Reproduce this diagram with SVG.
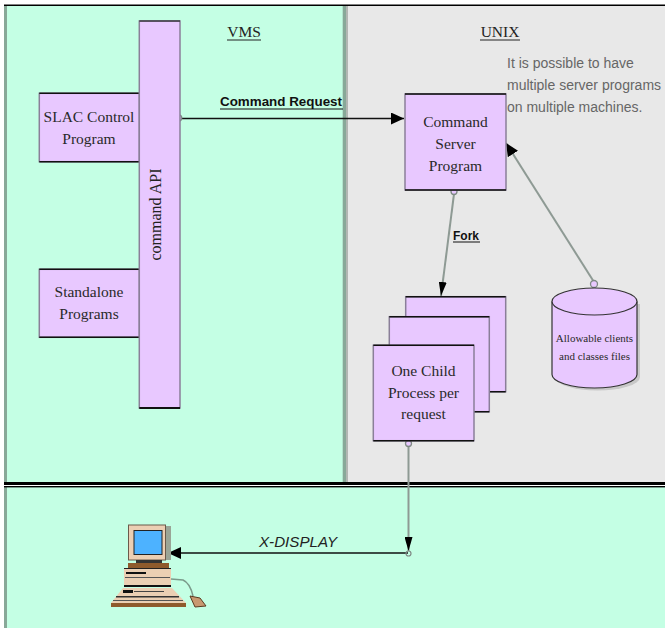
<svg xmlns="http://www.w3.org/2000/svg" width="665" height="628" viewBox="0 0 665 628">
<defs>
<style>
.box{fill:#E8C8FF;stroke:#8A7F99;stroke-width:1.5}
.edge{stroke:#111;stroke-width:1.5;fill:none}
.lbl{font-family:"Liberation Serif",serif;font-size:15.5px;fill:#2a2a2a;text-anchor:middle}
.hdr{font-family:"Liberation Serif",serif;font-size:15.5px;fill:#222;text-anchor:middle}
.bl{font-family:"Liberation Sans",sans-serif;font-weight:bold;font-size:12px;fill:#111}
.note{font-family:"Liberation Sans",sans-serif;font-size:14px;fill:#666}
.cyl{font-family:"Liberation Serif",serif;font-size:11px;fill:#2a2a2a;text-anchor:middle}
.gl{stroke:#8E9A94;stroke-width:2;fill:none}
.kl{stroke:#111;stroke-width:1.3;fill:none}
.dot{fill:#E8C8FF;stroke:#7f8a85;stroke-width:1.3}
</style>
<marker id="ah" markerWidth="14" markerHeight="12" refX="13" refY="6" orient="auto" markerUnits="userSpaceOnUse"><path d="M0,0 L13,6 L0,12 z" fill="#000"/></marker>
<marker id="ahn" markerWidth="15" markerHeight="8" refX="14" refY="4" orient="auto" markerUnits="userSpaceOnUse"><path d="M0,0 L14,4 L0,8 z" fill="#000"/></marker>
</defs>
<rect width="665" height="628" fill="#fff"/>
<g id="panels">
<rect x="5" y="5" width="340" height="477" fill="#C4FFE4"/>
<rect x="346" y="5" width="319" height="477" fill="#E8E8E8"/>
<rect x="5" y="487" width="660" height="141" fill="#C4FFE4"/>
<rect x="4" y="5" width="3" height="623" fill="#88A898"/>
<rect x="342.7" y="5" width="3.3" height="477" fill="#88A898"/>
<rect x="346" y="5" width="2" height="477" fill="#B2B6B2"/>
<rect x="4" y="4.5" width="661" height="1.5" fill="#000"/>
<rect x="4" y="482" width="661" height="3" fill="#000"/>
<rect x="4" y="485" width="661" height="1" fill="#fff"/>
<rect x="4" y="486" width="661" height="1.4" fill="#000"/>
</g>
<g id="headers">
<text class="hdr" x="244" y="37">VMS</text>
<line x1="227" y1="40" x2="261" y2="40" stroke="#222" stroke-width="1"/>
<text class="hdr" x="500" y="37">UNIX</text>
<line x1="480" y1="40" x2="520" y2="40" stroke="#222" stroke-width="1"/>
<text class="note" x="507" y="68">It is possible to have</text>
<text class="note" x="507" y="90">multiple server programs</text>
<text class="note" x="507" y="112">on multiple machines.</text>
</g>
<g id="connectors">
<line class="kl" x1="182" y1="118.5" x2="404" y2="118.5" marker-end="url(#ah)"/>
<circle class="dot" cx="178.7" cy="118" r="3"/>
<text class="bl" x="220" y="106" textLength="122" lengthAdjust="spacingAndGlyphs">Command Request</text>
<line x1="220" y1="109" x2="343" y2="109" stroke="#111" stroke-width="1"/>
<line class="gl" x1="454" y1="194" x2="441" y2="296" marker-end="url(#ahn)"/>
<circle class="dot" cx="454" cy="191.5" r="3"/>
<text class="bl" x="453" y="240">Fork</text>
<line x1="453" y1="242" x2="480" y2="242" stroke="#111" stroke-width="1"/>
<line class="gl" x1="594" y1="282" x2="506" y2="143" marker-end="url(#ah)"/>
<circle class="dot" cx="594" cy="284" r="3.5"/>
<line class="gl" x1="408.5" y1="446" x2="408.5" y2="551" marker-end="url(#ahn)"/>
<circle class="dot" cx="408.5" cy="443.5" r="3"/>
<line class="kl" x1="408" y1="553" x2="168" y2="553" marker-end="url(#ah)"/>
<circle cx="408.5" cy="553.5" r="2.5" fill="none" stroke="#7f8a85" stroke-width="1.2"/>
<text x="298" y="547" font-family="Liberation Sans, sans-serif" font-size="15" font-style="italic" fill="#222" text-anchor="middle" textLength="78" lengthAdjust="spacingAndGlyphs">X-DISPLAY</text>
</g>
<g id="slac">
<rect class="box" x="39.3" y="93.3" width="100" height="68.4"/>
<path class="edge" d="M39.3,93.3 H139.3 M39.3,161.7 H139.3"/>
<text class="lbl" x="89" y="122">SLAC Control</text>
<text class="lbl" x="89" y="144">Program</text>
</g>
<g id="standalone">
<rect class="box" x="39.3" y="269.3" width="100" height="68"/>
<path class="edge" d="M39.3,269.3 H139.3 M39.3,337.3 H139.3"/>
<text class="lbl" x="89" y="297">Standalone</text>
<text class="lbl" x="89" y="319">Programs</text>
</g>
<g id="api">
<rect class="box" x="139.3" y="21" width="40.7" height="387" stroke-width="2"/>
<path d="M139.3,21 H180" stroke="#111" stroke-width="1.2"/>
<path d="M139.3,408 H180" stroke="#111" stroke-width="2"/>
<text x="0" y="0" transform="translate(161,214.5) rotate(-90)" font-family="Liberation Serif, serif" font-size="16" fill="#222" text-anchor="middle">command API</text>
</g>
<g id="server">
<rect class="box" x="405" y="94" width="101" height="96"/>
<path class="edge" d="M405,94 H506 M405,190 H506"/>
<text class="lbl" x="455.5" y="127">Command</text>
<text class="lbl" x="455.5" y="149">Server</text>
<text class="lbl" x="455.5" y="171">Program</text>
</g>
<g id="children">
<rect class="box" x="405.7" y="296.7" width="100" height="95"/>
<path class="edge" d="M405.7,296.7 H505.7 M405.7,391.7 H505.7"/>
<rect class="box" x="389.3" y="316.7" width="100" height="95"/>
<path class="edge" d="M389.3,316.7 H489.3 M389.3,411.7 H489.3"/>
<rect class="box" x="373.3" y="345.3" width="100.7" height="95.4"/>
<path class="edge" d="M373.3,345.3 H474 M373.3,440.7 H474"/>
<text class="lbl" x="423.5" y="376">One Child</text>
<text class="lbl" x="423.5" y="398">Process per</text>
<text class="lbl" x="423.5" y="419">request</text>
</g>
<g id="files">
<path d="M555,304 V377 A42.5,13.5 0 0 0 640,377 V304 z" fill="#C8C8C8"/>
<path d="M552,301.5 V374.5 A42.5,13.5 0 0 0 637,374.5 V301.5" fill="#E8C8FF" stroke="#333" stroke-width="1.2"/>
<ellipse cx="594.5" cy="301.5" rx="42.5" ry="13.5" fill="#E8C8FF" stroke="#333" stroke-width="1.2"/>
<text class="cyl" x="594.5" y="342">Allowable clients</text>
<text class="cyl" x="594.5" y="360">and classes files</text>
</g>
<g id="workstation">
<rect x="164" y="526" width="7" height="34" fill="#9AA596"/>
<rect x="128.5" y="525" width="37" height="35" fill="#EBCFB3" stroke="#6b5a4a" stroke-width="1"/>
<rect x="134" y="530.5" width="28" height="24" fill="#4DB2FF" stroke="#222" stroke-width="1"/>
<rect x="136" y="560" width="26" height="3" fill="#333"/>
<rect x="128" y="563" width="41" height="5" fill="#8E5A2C"/>
<rect x="124" y="568" width="47" height="18" fill="#EBCFB3"/>
<rect x="124" y="568" width="47" height="1" fill="#222"/>
<rect x="126" y="572" width="20" height="2" fill="#111"/>
<rect x="125" y="577" width="45" height="1" fill="#555"/>
<rect x="124" y="585" width="47" height="2" fill="#111"/>
<polygon points="123,588 172,588 186,603 111,603" fill="#EBCFB3"/>
<rect x="123" y="590" width="10" height="3" fill="#111"/>
<rect x="134" y="591" width="30" height="1" fill="#444"/>
<rect x="116" y="596" width="63" height="1.5" fill="#333"/>
<rect x="113" y="600" width="70" height="1" fill="#555"/>
<rect x="111" y="603" width="75" height="4" fill="#8E5A2C"/>
<path d="M171,579 L183,580 Q190,583 193,596" fill="none" stroke="#7A9A8A" stroke-width="1.5"/>
<polygon points="190,596 200,598 206,606 195,607" fill="#C89870" stroke="#5a3a20" stroke-width="1"/>
</g>
</svg>
